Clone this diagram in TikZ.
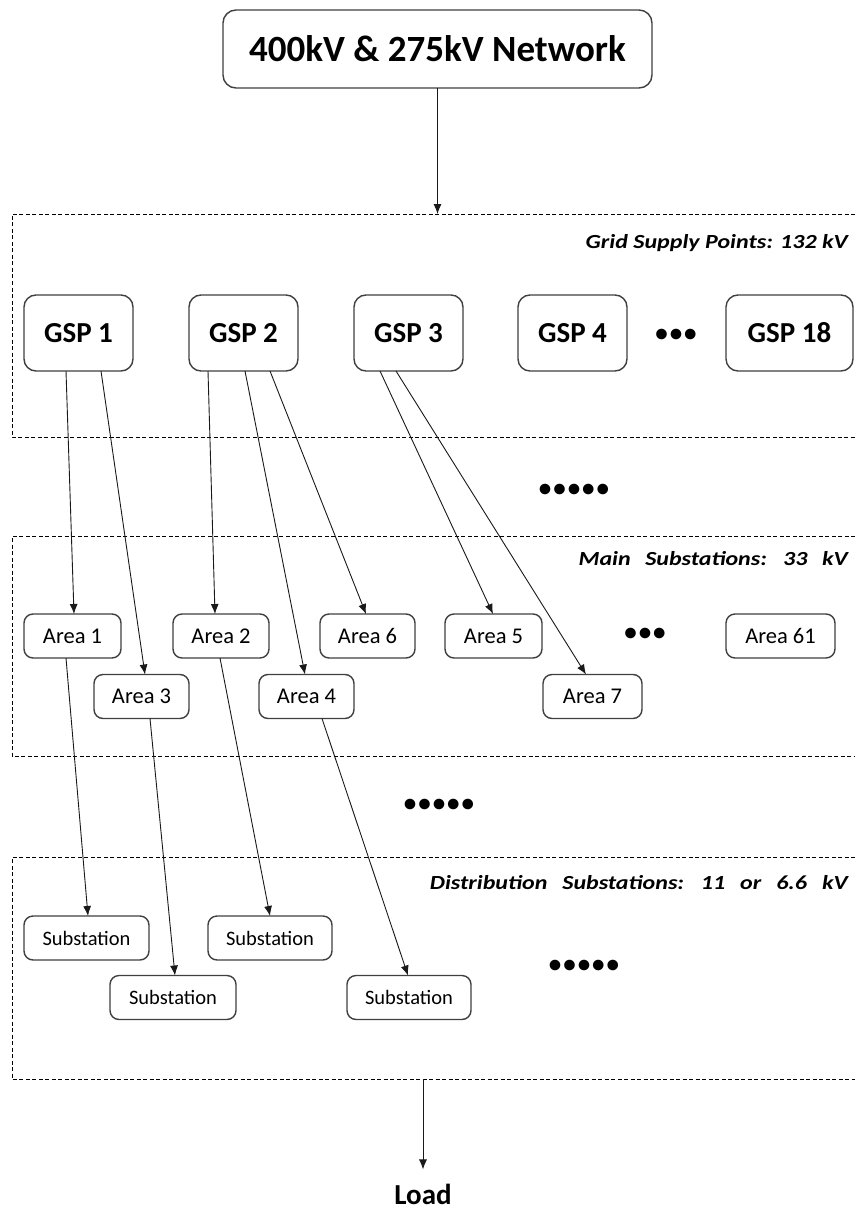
\documentclass[tikz,border=0pt]{standalone}
\usepackage{fontspec}
\setmainfont{Carlito}
\newfontfamily\labelfont[FakeStretch=1.2]{Carlito}
\newfontfamily\dotfont[LetterSpace=8]{Carlito}
\usetikzlibrary{arrows.meta}
\begin{document}
\begin{tikzpicture}[x=1pt,y=-1pt,
  box/.style={draw=black!75, line width=1.4pt, rounded corners=9pt, fill=white, inner sep=0pt, outer sep=0pt},
  netbox/.style={box, rounded corners=13pt, minimum width=429pt, minimum height=78pt, font=\bfseries\fontsize{37}{37}\selectfont},
  gspbox/.style={box, rounded corners=12pt, minimum width=109pt, minimum height=76pt, font=\bfseries\fontsize{29}{29}\selectfont},
  areabox/.style={box, minimum height=44pt, font=\fontsize{22.5}{22.5}\selectfont},
  subbox/.style={box, minimum width=125pt, minimum height=44pt, font=\fontsize{20.5}{20.5}\selectfont},
  arr/.style={-{Latex[length=10pt,width=8pt]}, line width=0.9pt, black!90},
  zone/.style={line width=0.8pt, dash pattern=on 4pt off 2.5pt},
  zlabel/.style={anchor=base east, inner sep=0pt, font=\labelfont\bfseries\itshape\fontsize{20}{20}\selectfont},
  dots/.style={inner sep=0pt, font=\dotfont\bfseries\fontsize{25}{25}\selectfont}
]
\useasboundingbox (0,0) rectangle (855,1209);

% zones
\draw[zone] (855,214) -- (12,214) -- (12,437) -- (855,437);
\draw[zone] (855,536) -- (12,536) -- (12,756) -- (855,756);
\draw[zone] (855,857) -- (12,857) -- (12,1079) -- (855,1079);
\coordinate (z1top) at (437.5,214);
\coordinate (z3bot) at (423,1079);

\node[zlabel] (l1) at (848,248) {Grid Supply Points: 132 kV};
\node[zlabel] (l2) at (848,565) {\spaceskip 14.5pt\relax Main Substations: 33 kV};
\node[zlabel] (l3) at (848,889) {\spaceskip 15pt\relax Distribution Substations: 11 or 6.6 kV};

% top
\node[netbox] (net) at (437.5,49) {400kV \& 275kV Network};

% GSP row
\node[gspbox] (gsp1) at (78.5,333) {GSP 1};
\node[gspbox] (gsp2) at (243.5,333) {GSP 2};
\node[gspbox] (gsp3) at (408.5,333) {GSP 3};
\node[gspbox] (gsp4) at (572.5,333) {GSP 4};
\node[gspbox, minimum width=127pt] (gsp18) at (789.5,333) {GSP 18};
\node[dots] (gdots) at (676,335) {•••};

\node[dots] (mdots1) at (574,490) {•••••};

% Areas
\node[areabox, minimum width=97pt] (area1) at (72.5,636) {Area 1};
\node[areabox, minimum width=96pt] (area2) at (221,636) {Area 2};
\node[areabox, minimum width=95pt] (area6) at (367.5,636) {Area 6};
\node[areabox, minimum width=97pt] (area5) at (493.5,636) {Area 5};
\node[areabox, minimum width=109pt] (area61) at (780.5,636) {Area 61};
\node[dots] (adots) at (645,634) {•••};
\node[areabox, minimum width=95pt] (area3) at (141.5,696.5) {Area 3};
\node[areabox, minimum width=95pt] (area4) at (306.5,696.5) {Area 4};
\node[areabox, minimum width=99pt] (area7) at (592.5,696.5) {Area 7};

\node[dots] (mdots2) at (439,805) {•••••};

% Substations
\node[subbox] (sub1) at (86.5,938) {Substation};
\node[subbox, minimum width=124pt] (sub2) at (270,938) {Substation};
\node[subbox, minimum width=126pt] (sub3) at (173,997.5) {Substation};
\node[subbox, minimum width=124pt] (sub4) at (409,997.5) {Substation};
\node[dots] (mdots3) at (584,966) {•••••};

\node[anchor=base, inner sep=0pt, font=\bfseries\fontsize{29}{29}\selectfont] (load) at (423,1204) {Load};

% connectors
\draw[arr] (net.south) -- (z1top);
\draw[arr] ([xshift=-12.5pt]gsp1.south) -- ([xshift=1.5pt]area1.north);
\draw[arr] ([xshift=22.5pt]gsp1.south) -- ([xshift=3.5pt]area3.north);
\draw[arr] ([xshift=-35.5pt]gsp2.south) -- ([xshift=-6pt]area2.north);
\draw[arr] ([xshift=1.5pt]gsp2.south) -- ([xshift=-1.5pt]area4.north);
\draw[arr] ([xshift=26.5pt]gsp2.south) -- ([xshift=-1.5pt]area6.north);
\draw[arr] ([xshift=-28.5pt]gsp3.south) -- ([xshift=-0.5pt]area5.north);
\draw[arr] ([xshift=-12.5pt]gsp3.south) -- ([xshift=-6.5pt]area7.north);
\draw[arr] ([xshift=-6.5pt]area1.south) -- ([xshift=1.5pt]sub1.north);
\draw[arr] ([xshift=8.5pt]area3.south) -- ([xshift=2pt]sub3.north);
\draw[arr] ([xshift=-1pt]area2.south) -- (sub2.north);
\draw[arr] ([xshift=15.5pt]area4.south) -- ([xshift=-1pt]sub4.north);
\draw[arr, shorten >=14pt] (z3bot) -- (load.north);
\end{tikzpicture}
\end{document}
